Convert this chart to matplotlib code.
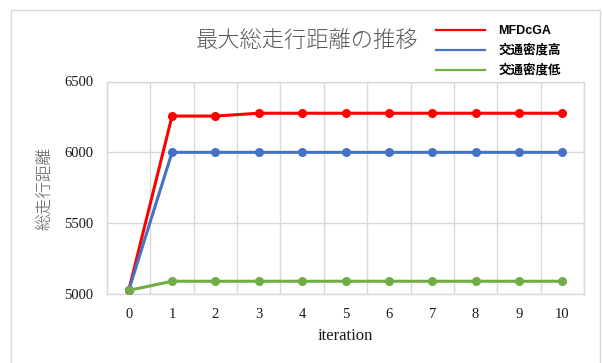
import matplotlib
matplotlib.use("Agg")
import matplotlib.pyplot as plt
from matplotlib.patches import Rectangle
from matplotlib.lines import Line2D

# Data
iterations = [0, 1, 2, 3, 4, 5, 6, 7, 8, 9, 10]
mfdcga = [5025, 6256, 6256, 6276, 6276, 6276, 6276, 6276, 6276, 6276, 6276]
density_high = [5025, 6000, 6000, 6000, 6000, 6000, 6000, 6000, 6000, 6000, 6000]
density_low = [5025, 5090, 5090, 5090, 5090, 5090, 5090, 5090, 5090, 5090, 5090]
series_names = ["MFDcGA", "交通密度高", "交通密度低"]
series_colors = ["#FF0000", "#4472C4", "#70AD47"]
y_ticks = [5000, 5500, 6000, 6500]

title = "最大総走行距離の推移"
y_label = "総走行距離"
x_label = "iteration"

W, H = 602, 363
fig = plt.figure(figsize=(W / 100, H / 100), dpi=100)

# Outer chart frame
fig.add_artist(Rectangle((11 / W, -0.05), (600 - 11) / W, 1.05 - 10 / H,
                         transform=fig.transFigure, fill=False,
                         edgecolor="#D9D9D9", linewidth=1.0))

ax = fig.add_axes([107 / W, 1 - 294 / H, (584 - 107) / W, (294 - 81.5) / H])

grid_color = "#D9D9D9"
for s in ax.spines.values():
    s.set_color(grid_color)
    s.set_linewidth(1.0)

serif = ["Liberation Serif", "DejaVu Serif"]
cjk = ["Noto Sans CJK JP", "DejaVu Sans"]

for vals, name, col in zip([mfdcga, density_high, density_low], series_names, series_colors):
    ax.plot(iterations, vals, color=col, linewidth=2.2, marker="o",
            markersize=5.5, label=name, solid_capstyle="round", zorder=3)

ax.set_xlim(-0.5, 10.5)
ax.set_ylim(5000, 6500)
ax.set_yticks(y_ticks)
ax.set_yticklabels([str(v) for v in y_ticks], fontfamily=serif, fontsize=10.5)
ax.set_xticks(iterations)
ax.set_xticklabels([str(v) for v in iterations], fontfamily=serif, fontsize=10.5)
ax.set_xticks([i - 0.5 for i in range(12)], minor=True)
ax.tick_params(axis="both", which="both", length=0)
ax.tick_params(axis="y", pad=10, colors="#1a1a1a")
ax.tick_params(axis="x", pad=10, colors="#1a1a1a")
ax.grid(True, which="minor", axis="x", color=grid_color, linewidth=1.0)
ax.grid(True, which="major", axis="y", color=grid_color, linewidth=1.0)
ax.grid(False, which="major", axis="x")
ax.set_axisbelow(True)

fig.text(307 / W, 1 - 42 / H, title, ha="center", va="center",
         fontsize=16, color="#595959", family=cjk, weight="light")
fig.text(45 / W, 1 - 188 / H, y_label, ha="center", va="center",
         rotation=90, fontsize=12, color="#595959", family=cjk, weight="light")
fig.text(345.5 / W, 1 - 336 / H, x_label, ha="center", va="center",
         fontsize=12, color="#1a1a1a", family=serif)

handles = [Line2D([], [], color=c, linewidth=1.6) for c in series_colors]
leg = fig.legend(handles, series_names, loc="upper left",
                 bbox_to_anchor=(436 / W, 1 - 25 / H),
                 frameon=False, handlelength=3.9, handletextpad=1.1,
                 labelspacing=0.6, borderpad=0, borderaxespad=0,
                 prop={"family": ["Liberation Sans", "Noto Sans CJK JP"],
                       "weight": "bold", "size": 9})

fig.savefig("out.png", dpi=100)
